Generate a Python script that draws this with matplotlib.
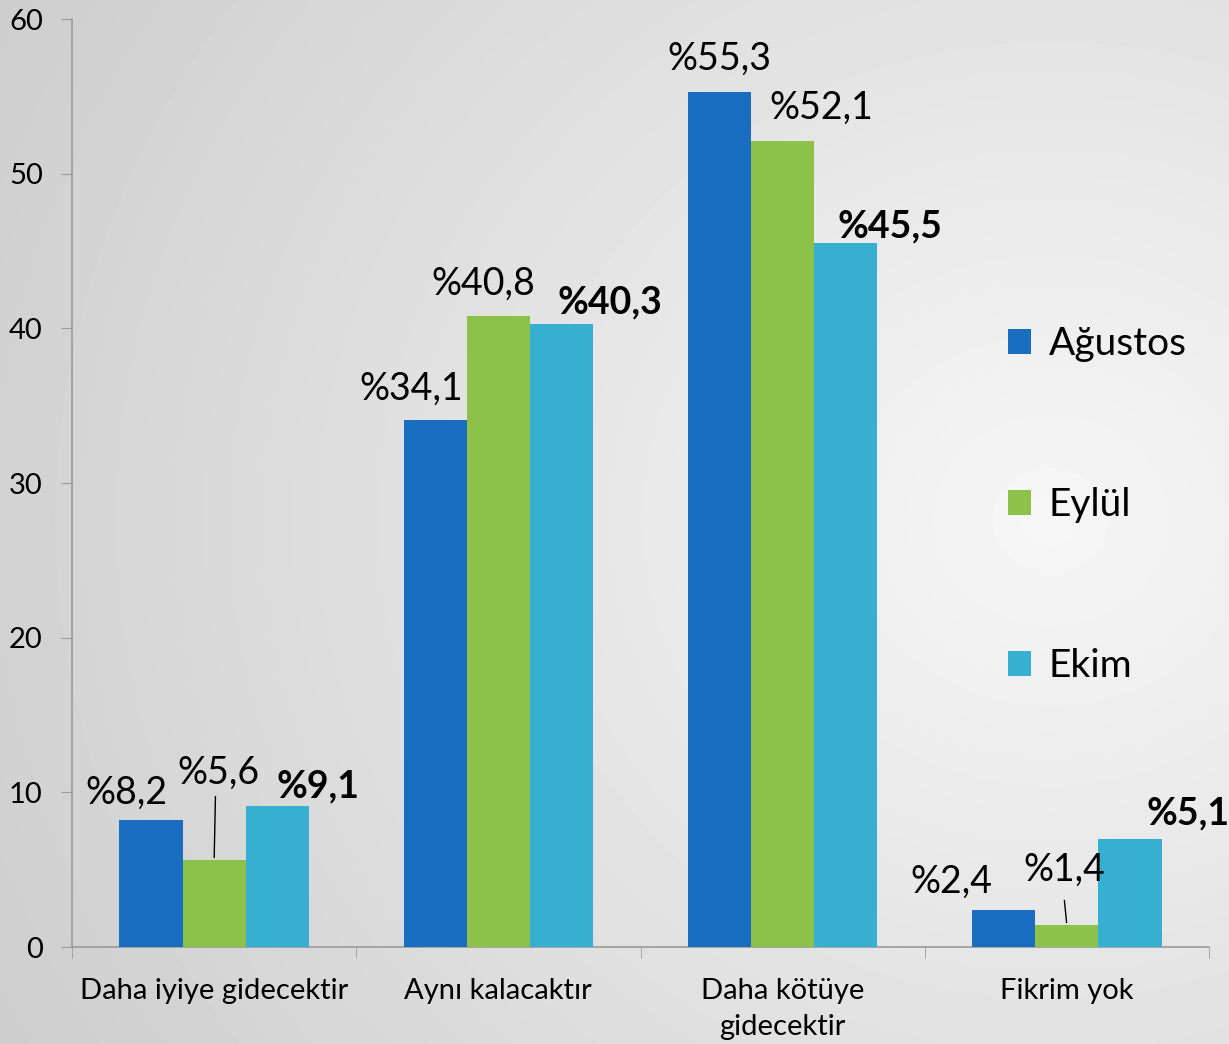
import numpy as np
import matplotlib
matplotlib.use("Agg")
import matplotlib.pyplot as plt
from matplotlib.patches import Patch

# Données du graphique
categories = ["Daha iyiye gidecektir", "Aynı kalacaktır", "Daha kötüye\ngidecektir", "Fikrim yok"]
series_names = ["Ağustos", "Eylül", "Ekim"]
agustos = [8.2, 34.1, 55.3, 2.4]
eylul = [5.6, 40.8, 52.1, 1.4]
ekim = [9.1, 40.3, 45.5, 7.0]
labels_agustos = ["%8,2", "%34,1", "%55,3", "%2,4"]
labels_eylul = ["%5,6", "%40,8", "%52,1", "%1,4"]
labels_ekim = ["%9,1", "%40,3", "%45,5", "%5,1"]
yticks = [0, 10, 20, 30, 40, 50, 60]

colors = ["#1a6ec1", "#8cc24a", "#36afd0"]

plt.rcParams['font.family'] = ['Lato', 'DejaVu Sans']

fig = plt.figure(figsize=(12.29, 10.44), dpi=100)

# Fond en dégradé radial
bg = fig.add_axes([0, 0, 1, 1], zorder=-1)
h, w = 1044, 1229
yy, xx = np.mgrid[0:h, 0:w]
dist = np.sqrt((xx - 1050) ** 2 + ((yy - 520) * 1.1) ** 2)
val = np.clip(246 - 0.034 * dist, 0, 255) / 255.0
bg.imshow(val, cmap="gray", vmin=0, vmax=1, aspect="auto", interpolation="bilinear")
bg.axis("off")

ax = fig.add_axes([72 / w, 97 / h, 1137 / w, 928 / h])
ax.set_facecolor("none")

x = np.arange(len(categories))
bw = 0.222
series = [agustos, eylul, ekim]
for i, (vals, c) in enumerate(zip(series, colors)):
    ax.bar(x + (i - 1) * bw, vals, width=bw, color=c, edgecolor="none", zorder=3)

# Étiquettes de données (décalages en points)
fs = 27
offs_a = [(-18, 7), (-17, 9), (0, 11), (-38, 7)]
offs_e = [(3, 50), (-11, 10), (28, 11), (-2, 27)]
offs_k = [(29, 2), (35, 3), (32, 0), (42, 6)]
for j in range(len(categories)):
    ax.annotate(labels_agustos[j], (x[j] - bw, agustos[j]), xytext=offs_a[j],
                textcoords="offset points", ha="center", va="bottom", fontsize=fs)
    ax.annotate(labels_eylul[j], (x[j], eylul[j]), xytext=offs_e[j],
                textcoords="offset points", ha="center", va="bottom", fontsize=fs)
    ax.annotate(labels_ekim[j], (x[j] + bw, ekim[j]), xytext=offs_k[j],
                textcoords="offset points", ha="center", va="bottom", fontsize=fs,
                fontweight="bold")

# Lignes de rappel pour les petites barres vertes
for j, dy in [(0, 48), (3, 20)]:
    ax.annotate("", (x[j], eylul[j]), xytext=(1 if j == 0 else -2, dy),
                textcoords="offset points",
                arrowprops=dict(arrowstyle="-", color="black", lw=1))

ax.set_xlim(-0.5, 3.5)
ax.set_ylim(0, 60)
ax.set_yticks(yticks)
ax.tick_params(axis="y", labelsize=21, length=8, color="#9a9a9a", pad=13)
ax.set_xticks(x)
ax.set_xticklabels(categories, fontsize=21, linespacing=1.5)
ax.set_xticks(np.arange(-0.5, 4, 1), minor=True)
ax.tick_params(axis="x", which="major", length=0, pad=22)
ax.tick_params(axis="x", which="minor", length=8, color="#9a9a9a")
for s in ["top", "right"]:
    ax.spines[s].set_visible(False)
for s in ["left", "bottom"]:
    ax.spines[s].set_color("#9a9a9a")
    ax.spines[s].set_linewidth(1.2)

handles = [Patch(facecolor=c, edgecolor="none", label=n) for c, n in zip(colors, series_names)]
fig.legend(handles=handles, loc="upper left", bbox_to_anchor=(973 / w, 1 - 291 / h),
           frameon=False, fontsize=28, handlelength=0.6, handleheight=0.6,
           handletextpad=0.45, labelspacing=3.22)

fig.savefig("out.png", dpi=100)
